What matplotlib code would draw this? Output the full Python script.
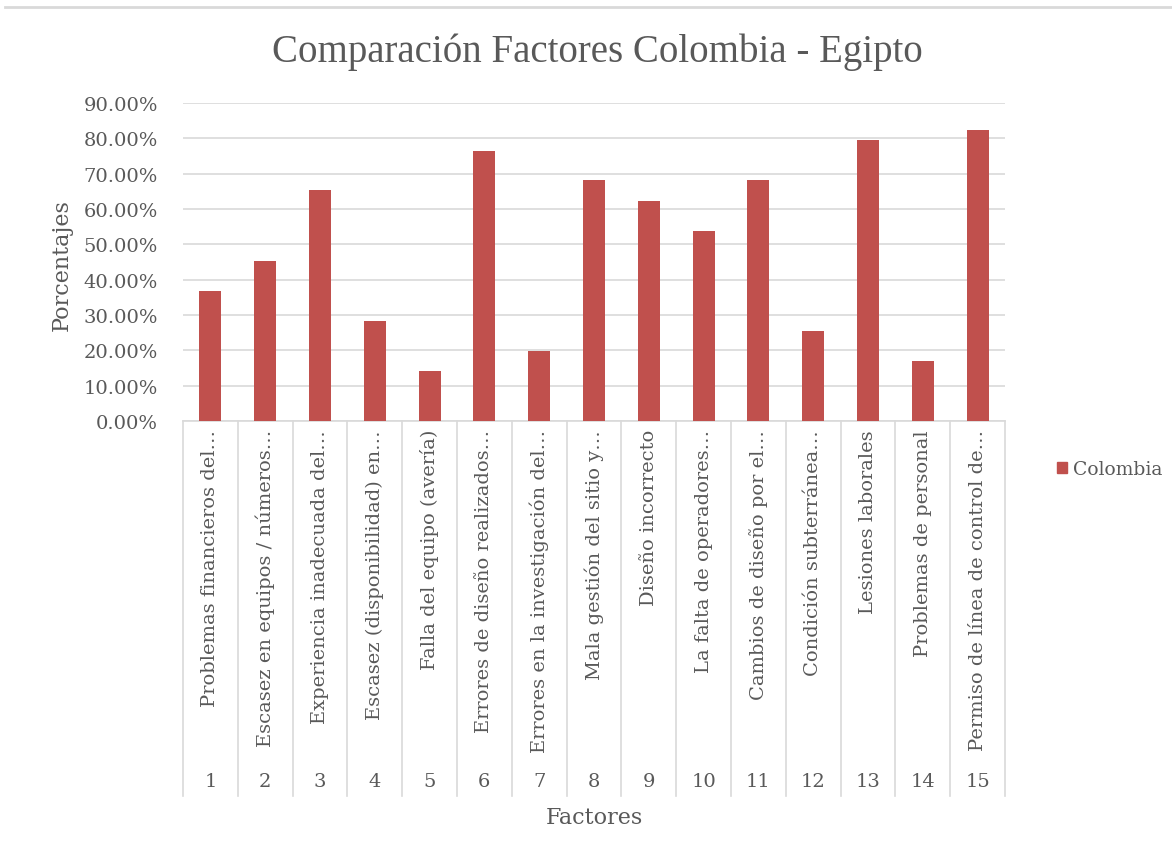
import matplotlib
matplotlib.use("Agg")
import matplotlib.pyplot as plt
from matplotlib.lines import Line2D
from matplotlib.patches import Patch

categories = ["Problemas financieros del…", "Escasez en equipos / números…", "Experiencia inadecuada del…",
              "Escasez (disponibilidad) en…", "Falla del equipo (avería)", "Errores de diseño realizados…",
              "Errores en la investigación del…", "Mala gestión del sitio y…", "Diseño incorrecto",
              "La falta de operadores…", "Cambios de diseño por el…", "Condición subterránea…",
              "Lesiones laborales", "Problemas de personal", "Permiso de línea de control de…"]
numbers = [str(i) for i in range(1, 16)]
colombia = [0.368, 0.454, 0.653, 0.283, 0.142, 0.765, 0.198, 0.681, 0.624,
            0.539, 0.681, 0.256, 0.795, 0.170, 0.823]
yticks = [0.0, 0.1, 0.2, 0.3, 0.4, 0.5, 0.6, 0.7, 0.8, 0.9]

W, H = 1172, 862
fig = plt.figure(figsize=(W / 100, H / 100), dpi=100)
FONT = "DejaVu Serif"
TC = "#595959"
GRID = "#D9D9D9"

left, right, top, bottom = 183, 1005, 104, 422
ax = fig.add_axes([left / W, 1 - bottom / H, (right - left) / W, (bottom - top) / H])

x = list(range(len(categories)))
ax.bar(x, colombia, width=0.40, color="#C0504D", zorder=3)
ax.set_xlim(-0.5, len(categories) - 0.5)
ax.set_ylim(0, 0.9)
ax.set_yticks(yticks)
ax.set_yticklabels([f"{v*100:.2f}%" for v in yticks], fontfamily=FONT, fontsize=14, color=TC)
ax.tick_params(axis="y", length=0, pad=18)
ax.tick_params(axis="x", length=0, labelbottom=False)
ax.yaxis.grid(True, color=GRID, linewidth=1.2, zorder=0)
for s in ["top", "right", "left"]:
    ax.spines[s].set_visible(False)
ax.spines["bottom"].set_color(GRID)
ax.spines["bottom"].set_linewidth(1.2)

trans = ax.get_xaxis_transform()
axh = bottom - top
def yfrac(py):
    return -(py - bottom) / axh

for i, (lab, num) in enumerate(zip(categories, numbers)):
    ax.text(i, yfrac(430), lab, rotation=90, ha="center", va="top", transform=trans,
            fontfamily=FONT, fontsize=14, color=TC, clip_on=False)
    ax.text(i, yfrac(782), num, ha="center", va="center", transform=trans,
            fontfamily=FONT, fontsize=14, color=TC, clip_on=False)
for b in range(len(categories) + 1):
    ax.add_line(Line2D([b - 0.5, b - 0.5], [0, yfrac(797)], transform=trans,
                       color=GRID, linewidth=1.2, clip_on=False))

fig.text(594 / W, 1 - 818 / H, "Factores", ha="center", va="center",
         fontfamily=FONT, fontsize=16, color=TC)
fig.text(62 / W, 1 - 265 / H, "Porcentajes", ha="center", va="center", rotation=90,
         fontfamily=FONT, fontsize=16, color=TC)
fig.text(597 / W, 1 - 52 / H, "Comparación Factores Colombia - Egipto", ha="center", va="center",
         fontfamily="Liberation Serif", fontsize=28, color=TC)

fig.add_artist(Line2D([5 / W, 1], [1 - 8 / H, 1 - 8 / H], color=GRID, linewidth=2))

leg = fig.legend(handles=[Patch(color="#C0504D", label="Colombia")],
                 loc="center left", bbox_to_anchor=(1040 / W, 1 - 470 / H), frameon=False,
                 handlelength=0.55, handleheight=0.55, handletextpad=0.3,
                 prop={"family": FONT, "size": 13.5})
for t in leg.get_texts():
    t.set_color(TC)

fig.savefig("out.png", dpi=100)
